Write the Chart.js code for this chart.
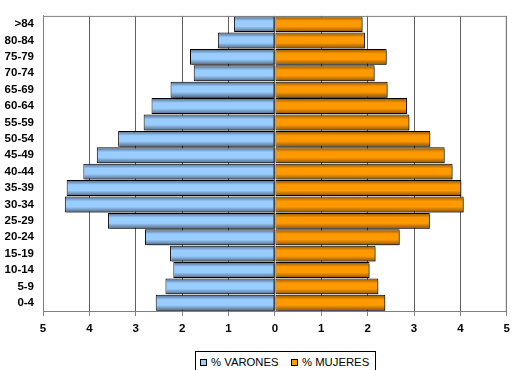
<!DOCTYPE html>
<html>
<head>
<meta charset="utf-8">
<script src="https://cdn.jsdelivr.net/npm/chart.js@4/dist/chart.umd.min.js"></script>
<style>
  html, body { margin: 0; padding: 0; background: #fff; }
  #wrap { position: relative; width: 516px; height: 370px; }
  #legend {
    position: absolute; left: 195px; top: 351px; width: 181px; height: 24px;
    border: 1px solid #000; box-sizing: border-box; background: #fff;
    font: 11.3px Arial, 'Liberation Sans', sans-serif; color: #000;
    white-space: nowrap;
  }
  #legend span.item { position: absolute; top: 3px; line-height: 14px; }
  #legend i {
    display: inline-block; width: 5px; height: 5px; border: 1px solid #000;
    margin-right: 4px; vertical-align: 0px;
  }
</style>
</head>
<body>
<div id="wrap">
  <canvas id="c" width="516" height="370"></canvas>
  <div id="legend"></div>
</div>
<script>
// age groups, bottom to top
const ageGroups = ["0-4", "5-9", "10-14", "15-19", "20-24", "25-29", "30-34", "35-39", "40-44",
  "45-49", "50-54", "55-59", "60-64", "65-69", "70-74", "75-79", "80-84", ">84"];
// percentages
const varones = [2.57, 2.36, 2.19, 2.26, 2.80, 3.60, 4.53, 4.49, 4.13,
  3.84, 3.38, 2.83, 2.66, 2.25, 1.75, 1.83, 1.23, 0.88];
const mujeres = [2.38, 2.23, 2.04, 2.17, 2.69, 3.34, 4.07, 4.02, 3.83,
  3.66, 3.35, 2.90, 2.85, 2.43, 2.15, 2.41, 1.94, 1.89];
const seriesNames = ["% VARONES", "% MUJERES"];
const seriesColors = ["#99CCFF", "#FF9900"];
const seriesDark = ["#4F6780", "#8A5300"];

const FONT = "Arial, 'Liberation Sans', sans-serif";

// gives every bar a fill that darkens at its top and bottom edge
const gradientPlugin = {
  id: "barGradient",
  beforeDatasetsDraw(chart) {
    const c = chart.ctx;
    chart.data.datasets.forEach((ds, i) => {
      const meta = chart.getDatasetMeta(i);
      meta.data.forEach((el) => {
        const top = el.y - el.height / 2;
        const bottom = el.y + el.height / 2;
        const g = c.createLinearGradient(0, top, 0, bottom);
        g.addColorStop(0, seriesDark[i]);
        g.addColorStop(0.3, seriesColors[i]);
        g.addColorStop(0.65, seriesColors[i]);
        g.addColorStop(1, seriesDark[i]);
        el.options = Object.assign({}, el.options, { backgroundColor: g });
      });
    });
    c.save();
    c.shadowColor = "rgba(0,0,0,0.35)";
    c.shadowOffsetX = 2;
    c.shadowOffsetY = 2;
    c.shadowBlur = 0;
  },
  afterDatasetsDraw(chart) {
    chart.ctx.restore();
  }
};

const framePlugin = {
  id: "frame",
  afterDraw(chart) {
    const c = chart.ctx;
    const a = chart.chartArea;
    c.save();
    c.strokeStyle = "#808080";
    c.lineWidth = 1;
    c.beginPath();
    c.moveTo(a.left + 0.5, a.bottom);
    c.lineTo(a.left + 0.5, a.top + 0.5);
    c.lineTo(a.right - 0.5, a.top + 0.5);
    c.lineTo(a.right - 0.5, a.bottom);
    c.stroke();
    c.restore();
  }
};

new Chart(document.getElementById("c"), {
  type: "bar",
  data: {
    labels: ageGroups,
    datasets: [
      {
        label: seriesNames[0],
        data: varones.map((v) => -v),
        backgroundColor: seriesColors[0],
        borderColor: "#000",
        borderWidth: 1,
        borderSkipped: false
      },
      {
        label: seriesNames[1],
        data: mujeres,
        backgroundColor: seriesColors[1],
        borderColor: "#000",
        borderWidth: 1,
        borderSkipped: false
      }
    ]
  },
  options: {
    indexAxis: "y",
    responsive: false,
    animation: false,
    events: [],
    categoryPercentage: 1,
    barPercentage: 0.97,
    layout: { padding: { top: 11, right: 7, left: 0, bottom: 21 } },
    plugins: {
      tooltip: { enabled: false },
      legend: { display: false }
    },
    scales: {
      x: {
        type: "linear",
        stacked: true,
        min: -5,
        max: 5,
        ticks: {
          stepSize: 1,
          color: "#000",
          padding: 6,
          font: { family: FONT, size: 11.5, weight: "bold" },
          callback: (v) => Math.abs(v)
        },
        grid: { color: "#606060", lineWidth: 1, drawTicks: true, tickLength: 5, tickColor: "#808080" },
        border: { display: true, color: "#808080" },
        afterFit(scale) { scale.height = 38; }
      },
      y: {
        type: "category",
        stacked: true,
        reverse: true,
        ticks: {
          color: "#000",
          padding: 9,
          autoSkip: false,
          font: { family: FONT, size: 11.5, weight: "bold" }
        },
        grid: { display: false, drawTicks: false },
        border: { display: true, color: "#808080" },
        afterFit(scale) { scale.width = 43; }
      }
    }
  },
  plugins: [gradientPlugin, framePlugin]
});

// legend as html, built from the series arrays
const legend = document.getElementById("legend");
const itemLeft = [4, 95];
seriesNames.forEach((name, i) => {
  const s = document.createElement("span");
  s.className = "item";
  s.style.left = itemLeft[i] + "px";
  const box = document.createElement("i");
  box.style.background = seriesColors[i];
  s.appendChild(box);
  s.appendChild(document.createTextNode(name));
  legend.appendChild(s);
});
</script>
</body>
</html>
